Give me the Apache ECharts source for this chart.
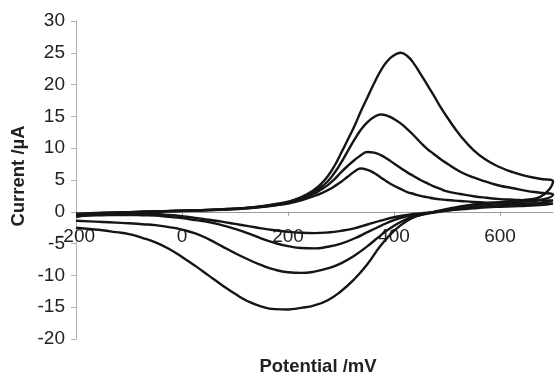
<!DOCTYPE html>
<html>
<head>
<meta charset="utf-8">
<script src="https://cdn.jsdelivr.net/npm/echarts@6/dist/echarts.min.js"></script>
<style>
  html, body { margin: 0; padding: 0; background: #fff; }
  #chart { width: 560px; height: 376px; }
</style>
</head>
<body>
<div id="chart"></div>
<script>
// potential (mV) on the forward sweep, finer steps around the oxidation peaks
var fwdPotential = [-200, -175, -150, -125, -100, -75, -50, -25, 0, 25, 50, 75, 100, 125, 150, 175, 200, 225,
  250, 262.5, 275, 287.5, 300, 312.5, 325, 337.5, 350, 362.5, 375, 387.5, 400, 412.5, 425, 437.5, 450, 462.5, 475, 487.5, 500,
  525, 550, 575, 600, 625, 650, 675, 700]
// potential (mV) on the reverse sweep
var revPotential = [700, 675, 650, 625, 600, 575, 550, 525, 500, 475, 450, 425, 400, 375, 350, 325, 300, 275, 250, 225, 200, 175, 150, 125, 100, 75, 50, 25, 0, -25, -50, -75, -100, -125, -150, -175, -200]

// current (uA) on the forward sweep, largest loop first
var loop1Fwd = [-0.8, -0.5, -0.3, -0.2, -0.1, -0.03, 0.05, 0.12, 0.2, 0.25, 0.3, 0.4, 0.5, 0.65, 0.9, 1.2, 1.6, 2.3,
  3.5, 4.4, 5.6, 7.2, 9.2, 11.3, 13.4, 15.8, 18.0, 20.2, 22.2, 23.7, 24.6, 25.0, 24.5, 23.3, 21.7, 20.0, 18.3, 16.5, 14.9,
  12.0, 9.7, 8.1, 7.0, 6.2, 5.6, 5.2, 4.8]
var loop2Fwd = [-0.6, -0.4, -0.25, -0.15, -0.1, -0.02, 0.05, 0.12, 0.18, 0.23, 0.3, 0.38, 0.5, 0.65, 0.85, 1.1, 1.5, 2.2,
  3.2, 3.9, 4.8, 6.1, 7.7, 9.5, 11.3, 12.9, 14.1, 14.9, 15.3, 15.1, 14.6, 13.9, 13.0, 12.0, 10.9, 9.9, 9.1, 8.3, 7.6,
  6.3, 5.4, 4.7, 4.1, 3.7, 3.3, 3.0, 2.7]
var loop3Fwd = [-0.4, -0.3, -0.2, -0.12, -0.05, 0.0, 0.05, 0.1, 0.15, 0.2, 0.28, 0.35, 0.45, 0.6, 0.8, 1.05, 1.4, 2.0,
  2.9, 3.5, 4.2, 5.1, 6.2, 7.2, 8.1, 8.9, 9.4, 9.3, 8.9, 8.3, 7.6, 6.9, 6.2, 5.6, 5.0, 4.5, 4.0, 3.6, 3.2,
  2.8, 2.45, 2.2, 2.0, 1.9, 1.8, 1.8, 1.8]
var loop4Fwd = [-0.3, -0.22, -0.15, -0.1, -0.05, 0.0, 0.05, 0.08, 0.12, 0.18, 0.25, 0.33, 0.42, 0.55, 0.75, 1.0, 1.3, 1.8,
  2.5, 2.9, 3.4, 4.0, 4.7, 5.5, 6.3, 6.8, 6.6, 6.1, 5.4, 4.7, 4.1, 3.6, 3.1, 2.8, 2.5, 2.3, 2.1, 1.95, 1.85,
  1.7, 1.55, 1.45, 1.4, 1.35, 1.3, 1.3, 1.3]

// current (uA) on the reverse sweep
var loop1Rev = [4.8, 2.3, 1.9, 1.7, 1.5, 1.35, 1.15, 0.85, 0.45, 0.0, -0.5, -1.4, -3.0, -5.3, -8.2, -10.6, -12.5, -13.9, -14.7, -15.1, -15.35, -15.3, -14.9, -14.1, -12.9, -11.5, -10.0, -8.5, -7.1, -5.8, -4.8, -4.1, -3.5, -3.2, -2.9, -2.7, -2.5]
var loop2Rev = [2.7, 1.85, 1.65, 1.5, 1.35, 1.2, 1.0, 0.7, 0.35, -0.1, -0.5, -1.1, -2.2, -3.7, -5.4, -6.9, -8.1, -8.9, -9.4, -9.6, -9.5, -9.1, -8.4, -7.5, -6.5, -5.4, -4.3, -3.4, -2.8, -2.4, -2.1, -1.95, -1.8, -1.7, -1.6, -1.5, -1.4]
var loop3Rev = [1.8, 1.35, 1.25, 1.15, 1.05, 0.9, 0.7, 0.45, 0.2, -0.1, -0.35, -0.7, -1.3, -2.2, -3.2, -4.2, -5.0, -5.5, -5.75, -5.7, -5.4, -4.9, -4.2, -3.4, -2.7, -2.1, -1.6, -1.3, -1.0, -0.8, -0.6, -0.55, -0.5, -0.5, -0.55, -0.6, -0.7]
var loop4Rev = [1.3, 1.05, 0.95, 0.88, 0.8, 0.7, 0.55, 0.38, 0.18, -0.05, -0.25, -0.5, -0.85, -1.4, -2.0, -2.6, -3.0, -3.25, -3.35, -3.3, -3.15, -2.9, -2.6, -2.25, -1.9, -1.55, -1.25, -0.95, -0.7, -0.5, -0.35, -0.3, -0.25, -0.25, -0.3, -0.35, -0.45]

var xTicks = [-200, 0, 200, 400, 600]
var yMin = -20
var yMax = 30

var loops = [
  [loop1Fwd, loop1Rev],
  [loop2Fwd, loop2Rev],
  [loop3Fwd, loop3Rev],
  [loop4Fwd, loop4Rev]
]

function buildLoop(fwd, rev) {
  var pts = []
  for (var i = 0; i < fwdPotential.length; i++) pts.push([fwdPotential[i], fwd[i]])
  // first reverse point is the 700 mV turning point already added
  for (var j = 1; j < revPotential.length; j++) pts.push([revPotential[j], rev[j]])
  return pts
}

var font = '"Liberation Sans", Arial, sans-serif'
var gridTop = 21
var gridBottom = 37
var gridHeight = 376 - gridTop - gridBottom
// x axis sits on y = 0, labels just under it
var xAxisOffset = -gridHeight * (0 - yMin) / (yMax - yMin)

var chart = echarts.init(document.getElementById('chart'), null, { renderer: 'canvas' })

var series = []
for (var k = 0; k < loops.length; k++) {
  series.push({
    type: 'line',
    data: buildLoop(loops[k][0], loops[k][1]),
    smooth: 0.5,
    showSymbol: false,
    symbol: 'none',
    lineStyle: { color: '#151515', width: 2.4 },
    silent: true
  })
}

chart.setOption({
  animation: false,
  grid: { left: 76, right: 7, top: gridTop, bottom: gridBottom, containLabel: false },
  xAxis: {
    type: 'value',
    min: -200,
    max: 700,
    interval: 200,
    offset: xAxisOffset,
    axisLine: { onZero: false, lineStyle: { color: '#9a9a9a', width: 1 } },
    axisTick: { show: true, length: 4, lineStyle: { color: '#9a9a9a' } },
    axisLabel: {
      color: '#222',
      fontSize: 19,
      fontFamily: font,
      margin: 15,
      showMaxLabel: false,
      formatter: function(v) { return xTicks.indexOf(v) >= 0 ? String(v) : '' }
    },
    splitLine: { show: false }
  },
  yAxis: {
    type: 'value',
    min: yMin,
    max: yMax,
    interval: 5,
    axisLine: { show: true, onZero: false, lineStyle: { color: '#b0b0b0', width: 1 } },
    axisTick: { show: true, length: 5, lineStyle: { color: '#b0b0b0' } },
    axisLabel: { color: '#222', fontSize: 19, fontFamily: font, margin: 11 },
    splitLine: { show: false }
  },
  graphic: [
    {
      type: 'text',
      x: 19,
      y: 176,
      rotation: Math.PI / 2,
      style: {
        text: 'Current /\u00b5A',
        font: 'bold 18.5px ' + font,
        fill: '#222',
        textAlign: 'center',
        textVerticalAlign: 'middle'
      }
    },
    {
      type: 'text',
      x: 318,
      y: 367,
      style: {
        text: 'Potential /mV',
        font: 'bold 18.5px ' + font,
        fill: '#222',
        textAlign: 'center',
        textVerticalAlign: 'middle'
      }
    }
  ],
  series: series
})
</script>
</body>
</html>
